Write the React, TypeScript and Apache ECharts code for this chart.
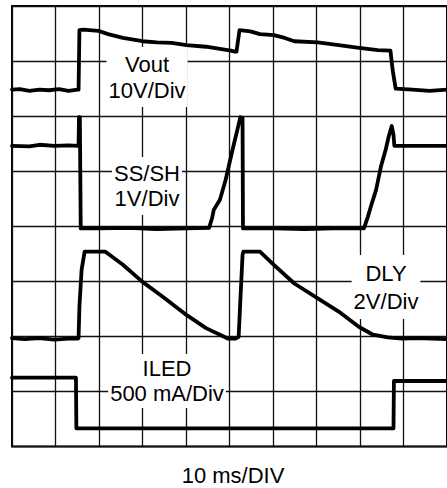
import React, { useEffect, useRef } from "react";
import * as echarts from "echarts";

// time in ms (10 ms/div), amplitude in screen divisions (0..8)
const voutT = [0, 1.8, 4.0, 6.3, 8.5, 10.8, 13.0, 15.1, 15.3, 15.5, 16.4, 19.8, 22.1, 25.5, 30.0, 33.3, 36.7, 40.1, 44.6, 47.8, 50.3, 51.2, 51.6, 52.3, 54.8, 57.0, 60.2, 62.7, 64.9, 70.3, 75.1, 79.8, 84.1, 87.0, 87.5, 88.2, 92.0, 96, 100];
const voutV = [6.48, 6.49, 6.46, 6.48, 6.47, 6.49, 6.46, 6.48, 6.48, 7.56, 7.57, 7.55, 7.49, 7.42, 7.36, 7.34, 7.33, 7.29, 7.26, 7.22, 7.19, 7.17, 7.17, 7.56, 7.54, 7.49, 7.47, 7.42, 7.36, 7.34, 7.29, 7.24, 7.20, 7.19, 6.84, 6.50, 6.48, 6.46, 6.48];

const ssT = [0, 4.0, 6.3, 9.7, 13.0, 15.3, 15.4, 15.6, 15.8, 20, 26.6, 33.3, 40.1, 45.3, 46.0, 46.4, 47.8, 49.1, 50.7, 51.8, 52.5, 53.0, 53.1, 60.4, 67.2, 74.0, 80.9, 81.8, 82.5, 83.7, 84.8, 85.9, 86.6, 87.3, 87.7, 87.9, 92, 100];
const ssV = [5.46, 5.45, 5.48, 5.46, 5.47, 5.46, 5.98, 5.98, 3.96, 3.96, 3.97, 3.95, 3.96, 3.97, 4.15, 4.30, 4.48, 4.84, 5.39, 5.75, 5.98, 5.97, 3.96, 3.96, 3.95, 3.96, 3.96, 4.17, 4.36, 4.66, 5.08, 5.39, 5.63, 5.82, 5.66, 5.46, 5.46, 5.46];

const dlyT = [0, 2.9, 6.3, 9.7, 13.0, 15.1, 15.3, 15.5, 16.0, 16.7, 21.4, 25.5, 30.0, 34.5, 40.1, 44.6, 47.8, 49.6, 51.4, 52.1, 52.5, 53.0, 53.2, 57.0, 60.2, 64.9, 70.3, 75.1, 79.8, 83.0, 86.4, 89.7, 93.1, 100];
const dlyV = [1.97, 1.95, 1.97, 1.94, 1.96, 1.96, 1.97, 2.54, 3.21, 3.54, 3.54, 3.30, 2.99, 2.73, 2.39, 2.15, 2.03, 1.96, 1.96, 1.99, 2.66, 3.48, 3.54, 3.54, 3.30, 2.96, 2.69, 2.45, 2.17, 2.03, 1.98, 1.96, 1.97, 1.95];

const iledT = [0, 14.7, 14.8, 87.7, 87.8, 100];
const iledV = [1.25, 1.25, 0.33, 0.33, 1.19, 1.19];

const traceLabels = ["Vout\n10V/Div", "SS/SH\n1V/Div", "DLY\n2V/Div", "ILED\n500 mA/Div"];
const timeBaseLabel = "10 ms/DIV";

const FONT = "'Liberation Sans', Arial, Helvetica, sans-serif";

function zip(t: number[], v: number[]) {
  return t.map((x, i) => [x, v[i]]);
}

export default function App() {
  const ref = useRef<HTMLDivElement>(null);
  useEffect(() => {
    if (!ref.current) return;
    const chart = echarts.init(ref.current, undefined, { renderer: "svg" });
    const traceStyle = { color: "#000", width: 3.8, join: "round", cap: "round" };
    const mk = (data: number[][]) => ({
      type: "line",
      data,
      showSymbol: false,
      symbol: "none",
      lineStyle: traceStyle,
      z: 5,
    });
    const labelText = (text: string, x: number, y: number, lh: number, pad: number[]) => ({
      type: "text",
      x,
      y,
      z: 100,
      style: {
        text,
        fill: "#000",
        fontSize: 22,
        fontFamily: FONT,
        align: "center",
        verticalAlign: "middle",
        lineHeight: lh,
        backgroundColor: "#fff",
        padding: pad,
      },
    });
    chart.setOption({
      animation: false,
      backgroundColor: "#fff",
      grid: {
        left: 12,
        top: 6,
        width: 443.3,
        height: 440.5,
        show: true,
        borderColor: "#000",
        borderWidth: 2,
        backgroundColor: "transparent",
      },
      xAxis: {
        type: "value",
        min: 0,
        max: 100,
        interval: 10,
        axisLine: { show: false },
        axisTick: { show: false },
        axisLabel: { show: false },
        splitLine: { show: true, lineStyle: { color: "#111", width: 1.3 } },
      },
      yAxis: {
        type: "value",
        min: 0,
        max: 8,
        interval: 1,
        axisLine: { show: false },
        axisTick: { show: false },
        axisLabel: { show: false },
        splitLine: { show: true, lineStyle: { color: "#111", width: 1.3 } },
      },
      series: [mk(zip(voutT, voutV)), mk(zip(ssT, ssV)), mk(zip(dlyT, dlyV)), mk(zip(iledT, iledV))],
      graphic: [
        labelText(traceLabels[0], 147, 77, 26, [4, 2]),
        labelText(traceLabels[1], 147, 186, 25, [4, 2]),
        labelText(traceLabels[2], 386, 287, 28, [4, 2]),
        labelText(traceLabels[3], 167, 381, 25, [2, 2]),
        {
          type: "text",
          x: 233,
          y: 475,
          z: 100,
          style: {
            text: timeBaseLabel,
            fill: "#000",
            fontSize: 22,
            fontFamily: FONT,
            align: "center",
            verticalAlign: "middle",
          },
        },
      ],
    });
    return () => chart.dispose();
  }, []);
  return (
    <div
      ref={ref}
      style={{ position: "absolute", left: 0, top: 0, width: 447, height: 488 }}
    />
  );
}
